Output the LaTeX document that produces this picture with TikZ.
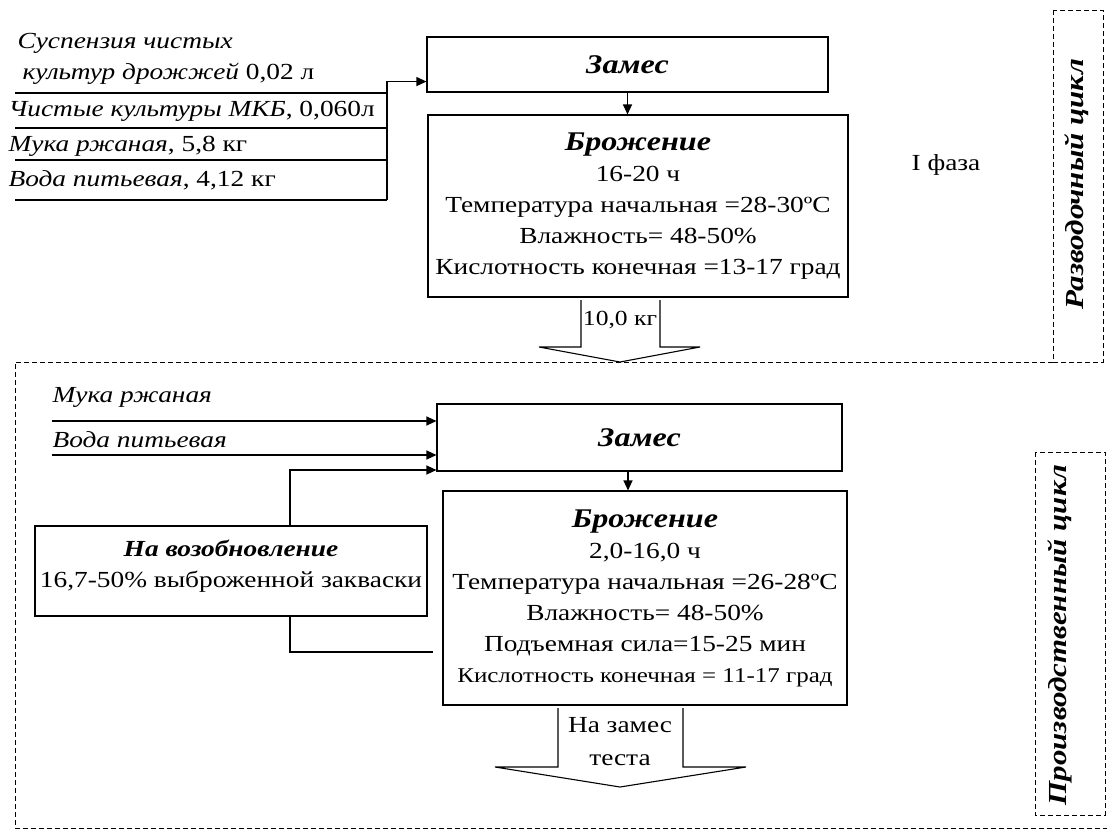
\documentclass[tikz,border=0pt]{standalone}
\usepackage{fontspec}
\setmainfont[FakeStretch=1.19]{Liberation Serif}
\usetikzlibrary{arrows.meta, positioning, calc}
\tikzset{
  stepbox/.style={rectangle, draw, align=center, inner sep=0pt, fill=white},
  feed/.style={-{Triangle[length=10pt,width=9pt]}},
  cycleframe/.style={draw, dashed, line width=0.8pt, dash pattern=on 5pt off 3pt},
  inlabel/.style={anchor=west, inner sep=0pt, align=left},
  cyclelabel/.style={rotate=90, font=\fontsize{26}{31}\selectfont\bfseries\itshape}
}
\newcommand{\stage}[1]{{\fontsize{27}{31}\selectfont\bfseries\itshape #1}}

\begin{document}
\begin{tikzpicture}[x=1pt, y=-1pt, font=\fontsize{23}{31}\selectfont, line width=1.1pt]
  \useasboundingbox (0,0) rectangle (1107,830);

  % cycle frames
  \draw[cycleframe] (1053,10) rectangle (1103,362);
  \draw[cycleframe] (1053,362) -- (15,362) -- (15,828) -- (1107,828);
  \draw[cycleframe] (1035,452) rectangle (1105,815);
  \node[cyclelabel] (razv) at (1077,184) {Разводочный цикл};
  \node[cyclelabel] (proizv) at (1060,635) {Производственный цикл};

  % I phase
  \node[stepbox, minimum width=401, minimum height=55] (zames1) at (627.5,64.5) {\stage{Замес}};
  \node[stepbox, minimum width=420, minimum height=182] (broz1) at (638,206) {\stage{Брожение}\\16-20 ч\\Температура начальная =28-30ºC\\Влажность= 48-50\%\\Кислотность конечная =13-17 град};
  \draw[feed] (zames1.south) -- (zames1.south |- broz1.north);
  \node (faza) at (946,165) {I фаза};

  \node[inlabel] (susp) at (17,59) {\itshape Суспензия чистых\\\hspace*{5pt}{\itshape культур дрожжей} 0,02 л};
  \node[inlabel] (mkb) at (8,111) {{\itshape Чистые культуры МКБ}, 0,060л};
  \node[inlabel] (muka1) at (8,146) {{\itshape Мука ржаная}, 5,8 кг};
  \node[inlabel] (voda1) at (8,180) {{\itshape Вода питьевая}, 4,12 кг};
  \coordinate (join1) at (387,200);
  \foreach \y in {93,128,160,200}
    \draw (15,\y) -- (join1 |- 0,\y);
  \draw[feed] (join1) |- ($(zames1.south west)+(0,-11)$);

  \draw[fill=white] (581,300) -- (581,347) -- (539,347) -- (620,362) -- (700,347) -- (660,347) -- (660,300);
  \node[font=\fontsize{21.5}{31}\selectfont] (out1) at (620,320) {10,0 кг};

  % production cycle
  \node[stepbox, minimum width=405, minimum height=67] (zames2) at (639.5,437.5) {\stage{Замес}};
  \node[stepbox, minimum width=404, minimum height=214] (broz2) at (645,598) {\stage{Брожение}\\2,0-16,0 ч\\Температура начальная =26-28ºC\\Влажность= 48-50\%\\Подъемная сила=15-25 мин\\{\fontsize{21}{31}\selectfont Кислотность конечная = 11-17 град}};
  \coordinate (mid2) at (628,471);
  \draw[feed] (mid2) -- (mid2 |- broz2.north);
  \node[stepbox, minimum width=392, minimum height=90] (vozob) at (231,571) {{\fontsize{23}{31}\selectfont\bfseries\itshape На возобновление}\\16,7-50\% выброженной закваски\\[-16pt]\mbox{}};

  \node[inlabel] (muka2) at (52,397) {\itshape Мука ржаная};
  \node[inlabel] (voda2) at (52,440) {\itshape Вода питьевая};
  \draw[feed] (52,421) -- (zames2.west |- 0,421);
  \draw[feed] (52,455) -- (zames2.west |- 0,455);
  \coordinate (ret) at (290,470);
  \coordinate (back) at (433,652);
  \draw[feed] (vozob.north -| ret) -- (ret) -- (ret -| zames2.west);
  \draw (vozob.south -| ret) |- (back);

  \draw[fill=white] (558,708) -- (558,767) -- (495,767) -- (620,787) -- (746,767) -- (683,767) -- (683,708);
  \node[align=center] (out2) at (620,742) {На замес\\[2pt]теста};
\end{tikzpicture}
\end{document}
